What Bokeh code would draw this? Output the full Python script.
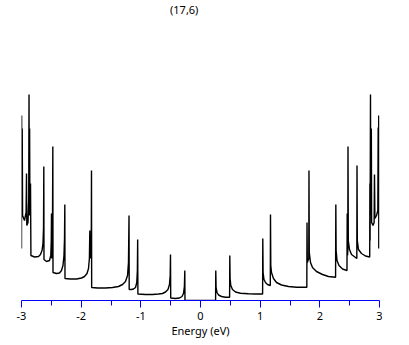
from bokeh.plotting import figure
from bokeh.models import FixedTicker, Label
from bokeh.embed import file_html
from bokeh.resources import INLINE

# Density of states of the (17,6) nanotube
energy = [
    -3.000, -2.998, -2.993, -2.988, -2.982, -2.950, -2.923, -2.916, -2.911, -2.891,
    -2.879, -2.874, -2.869, -2.864, -2.859, -2.849, -2.842, -2.782, -2.715, -2.682,
    -2.656, -2.640, -2.631, -2.626, -2.623, -2.581, -2.531, -2.509, -2.501, -2.497,
    -2.492, -2.482, -2.475, -2.472, -2.413, -2.363, -2.330, -2.305, -2.288, -2.279,
    -2.274, -2.271, -2.179, -2.078, -1.994, -1.944, -1.902, -1.877, -1.862, -1.855,
    -1.850, -1.837, -1.830, -1.827, -1.824, -1.726, -1.592, -1.475, -1.374, -1.307,
    -1.257, -1.223, -1.207, -1.198, -1.195, -1.156, -1.123, -1.089, -1.068, -1.058,
    -1.053, -1.049, -0.922, -0.804, -0.704, -0.637, -0.587, -0.545, -0.520, -0.508,
    -0.503, -0.499, -0.419, -0.352, -0.310, -0.285, -0.270, -0.263, -0.260,
    0.253, 0.256, 0.261, 0.277, 0.302, 0.352, 0.419, 0.488, 0.491, 0.496,
    0.508, 0.536, 0.587, 0.670, 0.804, 0.922, 1.041, 1.044, 1.049, 1.064,
    1.089, 1.123, 1.170, 1.173, 1.178, 1.190, 1.223, 1.274, 1.358, 1.475,
    1.609, 1.782, 1.785, 1.790, 1.815, 1.818, 1.823, 1.844, 1.877, 1.944,
    2.045, 2.145, 2.264, 2.268, 2.273, 2.288, 2.321, 2.380, 2.455, 2.459,
    2.464, 2.469, 2.472, 2.477, 2.497, 2.531, 2.620, 2.623, 2.628, 2.648,
    2.698, 2.765, 2.836, 2.839, 2.842, 2.849, 2.854, 2.863, 2.868, 2.891,
    2.910, 2.916, 2.923, 2.950, 2.972, 2.978, 2.983, 2.987, 2.988,
]
dos = [
    5.2, 18.5, 10.0, 17.2, 8.5, 8.0, 8.8, 12.7, 7.5, 7.8,
    10.0, 20.6, 8.5, 17.2, 8.5, 11.7, 4.5, 4.35, 4.4, 4.6,
    5.0, 5.7, 7.2, 13.4, 4.1, 3.9, 4.0, 4.5, 6.0, 8.7,
    4.2, 5.5, 15.4, 2.8, 2.7, 2.75, 3.0, 3.5, 4.5, 6.2,
    9.6, 2.2, 2.15, 2.15, 2.25, 2.4, 2.7, 3.2, 4.2, 7.0,
    4.2, 5.0, 6.5, 13.0, 1.3, 1.25, 1.25, 1.3, 1.4, 1.6,
    1.9, 2.5, 3.8, 8.5, 1.1, 1.1, 1.15, 1.3, 1.8, 3.0,
    6.1, 0.65, 0.6, 0.6, 0.65, 0.7, 0.85, 1.1, 1.6, 2.5,
    4.6, 0.25, 0.2, 0.25, 0.4, 0.7, 1.4, 3.0, 0.0,
    0.0, 3.0, 1.3, 0.8, 0.55, 0.4, 0.33, 0.33, 4.5, 2.2,
    1.5, 1.1, 0.85, 0.73, 0.68, 0.65, 0.65, 6.2, 2.8, 2.1,
    1.8, 1.6, 1.5, 8.6, 3.5, 2.8, 2.2, 1.8, 1.55, 1.4,
    1.33, 1.33, 7.8, 3.8, 4.2, 13.0, 4.8, 3.8, 3.3, 2.9,
    2.6, 2.4, 2.33, 9.6, 5.0, 4.0, 3.5, 3.15, 3.0, 8.7,
    4.5, 5.0, 15.4, 6.0, 5.1, 4.6, 4.2, 13.5, 6.0, 5.1,
    4.7, 4.45, 4.35, 11.7, 6.0, 20.6, 8.5, 17.2, 7.8, 7.5,
    7.8, 12.6, 8.2, 8.5, 9.0, 17.3, 9.0, 18.5, 5.2,
]

major_ticks = [-3, -2, -1, 0, 1, 2, 3]
minor_ticks = [-2.5, -1.5, -0.5, 0.5, 1.5, 2.5]
tick_labels = ["-3", "-2", "-1", "0", "1", "2", "3"]
title_text = "(17,6)"
x_label = "Energy (eV)"

FONT = "Noto Sans"

p = figure(
    width=400, height=340,
    x_range=(-3, 3), y_range=(0, 30.0),
    output_backend="svg", toolbar_location=None,
    y_axis_location=None,
    min_border_left=21, min_border_right=21,
    min_border_top=0, min_border_bottom=40,
)
p.outline_line_color = None
p.xgrid.visible = False
p.ygrid.visible = False
p.background_fill_color = "white"
p.border_fill_color = "white"

p.line(energy, dos, line_color="black", line_width=1.4)

ax = p.xaxis[0]
ax.ticker = FixedTicker(ticks=major_ticks, minor_ticks=minor_ticks)
ax.major_label_overrides = {t: l for t, l in zip(major_ticks, tick_labels)}
ax.axis_line_color = "#0000ff"
ax.axis_line_width = 1
ax.major_tick_line_color = "#0000ff"
ax.minor_tick_line_color = "#0000ff"
ax.major_tick_in = 0
ax.major_tick_out = 7
ax.minor_tick_in = 0
ax.minor_tick_out = 5
ax.major_label_standoff = 4
ax.major_label_text_font = FONT
ax.major_label_text_font_size = "11px"
ax.major_label_text_color = "black"
ax.axis_label = x_label
ax.axis_label_standoff = 0
ax.axis_label_text_font = FONT
ax.axis_label_text_font_size = "11px"
ax.axis_label_text_font_style = "normal"
ax.axis_label_text_color = "black"

p.add_layout(Label(x=-0.273, y=29.9, text=title_text, text_align="center",
                   text_baseline="top", text_font=FONT, text_font_size="11px",
                   text_color="black"))

open("out.html", "w").write(file_html(p, INLINE))
